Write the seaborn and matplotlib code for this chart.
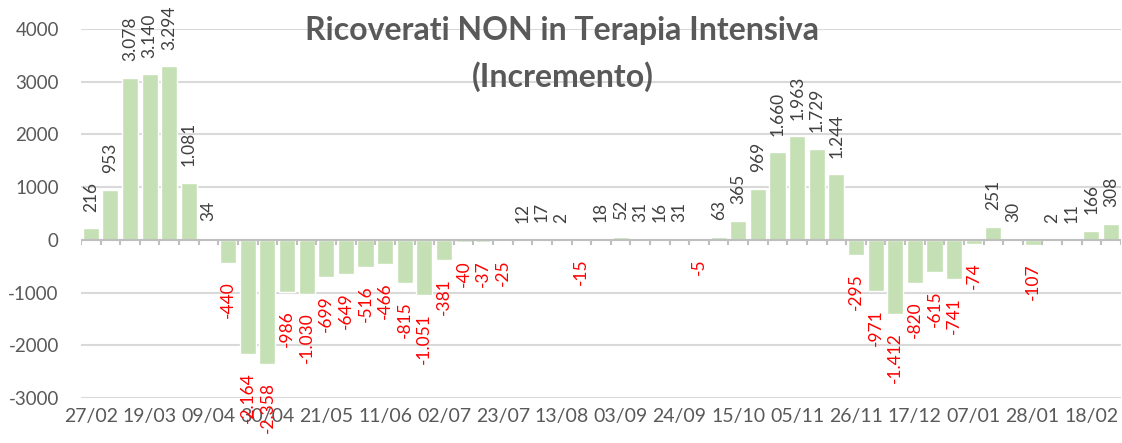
import pandas as pd
import matplotlib
matplotlib.use('Agg')
import matplotlib.pyplot as plt
import seaborn as sns

# weekly increment of hospitalised (non ICU) patients
values = [216, 953, 3078, 3140, 3294, 1081, 34, -440, -2164, -2358,
          -986, -1030, -699, -649, -516, -466, -815, -1051, -381, -40,
          -37, -25, 12, 17, 2, -15, 18, 52, 31, 16,
          31, -5, 63, 365, 969, 1660, 1963, 1729, 1244, -295,
          -971, -1412, -820, -615, -741, -74, 251, 30, -107, 2,
          11, 166, 308]
weeks = list(pd.date_range('2020-02-27', periods=len(values), freq='7D').strftime('%d/%m'))
yticks = [-3000, -2000, -1000, 0, 1000, 2000, 3000, 4000]

df = pd.DataFrame({'week': weeks, 'value': values})

sns.set_style('white')
plt.rcParams['font.family'] = ['Lato', 'DejaVu Sans']

fig = plt.figure(figsize=(11.22, 4.43), dpi=100)
ax = fig.add_axes([0.0722, 0.1016, 0.9268, 0.8329])

sns.barplot(data=df, x='week', y='value', color='#C5E0B4', saturation=1,
            width=0.82, ax=ax, zorder=2)

ax.set_ylim(-3000, 4000)
ax.set_xlim(-0.5, len(values) - 0.5)
ax.set_yticks(yticks)
ax.set_yticklabels([str(t) for t in yticks], fontsize=13.5, color='#595959')
ax.yaxis.grid(True, color='#D9D9D9', lw=1.5, zorder=0)
ax.set_axisbelow(True)
ax.set_xticks(range(0, len(weeks), 3))
ax.set_xticklabels(weeks[::3], fontsize=14, color='#595959')
ax.tick_params(axis='both', length=0)
ax.tick_params(axis='x', pad=7)
ax.tick_params(axis='y', pad=16)
ax.set_xlabel('')
ax.set_ylabel('')
for s in ax.spines.values():
    s.set_visible(False)

# category axis at zero with small ticks between bars
ax.axhline(0, color='#BFBFBF', lw=1.5, zorder=3)
ax.vlines([i - 0.5 for i in range(len(values) + 1)], 0, -95,
          color='#BFBFBF', lw=1.5, zorder=3)

# data labels
for i, v in enumerate(values):
    txt = f'{v:,}'.replace(',', '.')
    if v >= 0:
        ax.annotate(txt, (i, v), xytext=(0, 12), textcoords='offset points',
                    rotation=90, ha='center', va='bottom', fontsize=12.5,
                    color='#404040', annotation_clip=False)
    else:
        ax.annotate(txt, (i, v), xytext=(0, -13), textcoords='offset points',
                    rotation=90, ha='center', va='top', fontsize=12.5,
                    color='red', annotation_clip=False)

ax.text(0.463, 0.995, 'Ricoverati NON in Terapia Intensiva', transform=ax.transAxes,
        ha='center', va='center', fontsize=23, fontweight='bold', color='#595959', zorder=5)
ax.text(0.463, 0.872, '(Incremento)', transform=ax.transAxes,
        ha='center', va='center', fontsize=23, fontweight='bold', color='#595959', zorder=5)

fig.savefig('out.png', dpi=100)
